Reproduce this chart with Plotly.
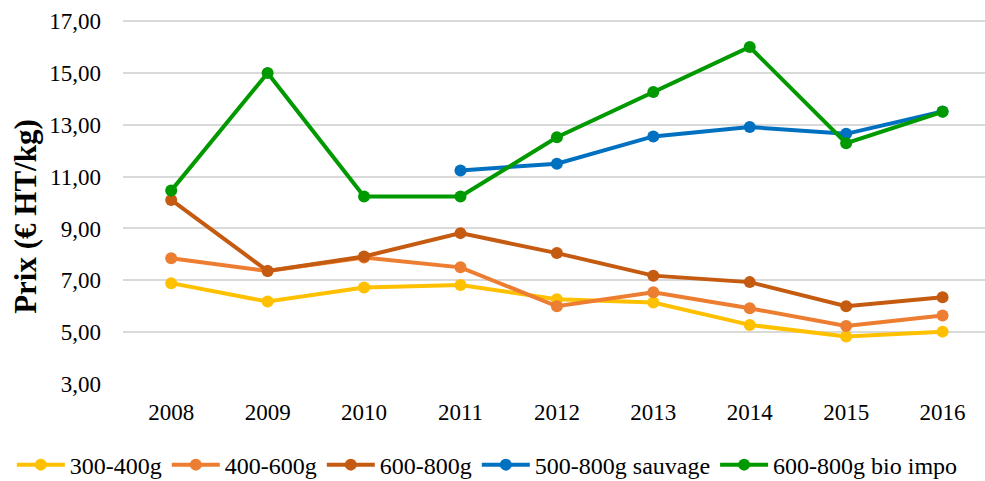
import plotly.graph_objects as go

# Prix moyens par gamme de poids, 2008-2016 (€ HT/kg)
years = ["2008", "2009", "2010", "2011", "2012", "2013", "2014", "2015", "2016"]

prix_300_400 = [6.89, 6.18, 6.72, 6.82, 6.27, 6.14, 5.28, 4.83, 5.02]
prix_400_600 = [7.85, 7.36, 7.88, 7.50, 6.00, 6.54, 5.92, 5.24, 5.64]
prix_600_800 = [10.10, 7.36, 7.92, 8.82, 8.05, 7.18, 6.93, 6.00, 6.35]
prix_500_800_sauvage = [None, None, None, 11.24, 11.50, 12.55, 12.91, 12.65, 13.51]
prix_600_800_bio = [10.46, 15.00, 10.23, 10.23, 12.52, 14.26, 16.00, 12.29, 13.50]

y_tickvals = [3, 5, 7, 9, 11, 13, 15, 17]
y_ticktext = ["3,00", "5,00", "7,00", "9,00", "11,00", "13,00", "15,00", "17,00"]
y_title = "Prix (€ HT/kg)"

series = [
    ("300-400g", prix_300_400, "#FFC000"),
    ("400-600g", prix_400_600, "#ED7D31"),
    ("600-800g", prix_600_800, "#C55A11"),
    ("500-800g sauvage", prix_500_800_sauvage, "#0070C0"),
    ("600-800g bio impo", prix_600_800_bio, "#009A00"),
]

FONT = "Liberation Serif, Times New Roman, serif"

fig = go.Figure()
for name, values, color in series:
    fig.add_trace(go.Scatter(
        x=years, y=values, name=name, mode="lines+markers",
        line=dict(color=color, width=4),
        marker=dict(color=color, size=12),
        connectgaps=False,
    ))

fig.update_layout(
    width=985, height=481,
    margin=dict(l=123, r=0, t=19, b=97, autoexpand=False),
    paper_bgcolor="white", plot_bgcolor="white",
    font=dict(family=FONT, size=23, color="#000000"),
    showlegend=True,
    # legend row along the bottom edge, starting in the left margin
    legend=dict(
        orientation="h",
        xref="paper", x=-0.129, xanchor="left",
        yref="paper", y=-0.222, yanchor="middle",
        font=dict(family=FONT, size=24, color="#000000"),
        itemwidth=48, tracegroupgap=0,
        bgcolor="rgba(0,0,0,0)",
    ),
)

# vertical axis title placed beside the tick labels
fig.add_annotation(
    text=f"<b>{y_title}</b>", textangle=-90,
    xref="paper", yref="paper", x=-0.114, y=0.46,
    xanchor="center", yanchor="middle", showarrow=False,
    font=dict(family=FONT, size=31, color="#000000"),
)

fig.update_xaxes(
    type="category", range=[-0.5, 8.44],
    showgrid=False, showline=False, zeroline=False,
    ticks="", tickfont=dict(family=FONT, size=23),
    ticklabelstandoff=12,
    automargin=False,
)

fig.update_yaxes(
    range=[3, 17.08],
    tickvals=y_tickvals, ticktext=y_ticktext,
    showgrid=True, gridcolor="#D9D9D9", gridwidth=1.5,
    zeroline=False, showline=False, ticks="",
    tickfont=dict(family=FONT, size=23),
    ticklabelstandoff=21,
    automargin=False,
)

fig.write_html("out.html")
